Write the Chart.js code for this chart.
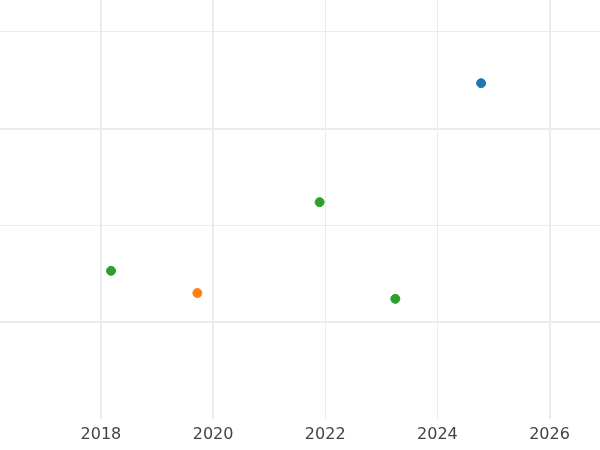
<!DOCTYPE html>
<html><head><script src="https://cdn.jsdelivr.net/npm/chart.js@4"></script>
<style>body{margin:0;background:#fff}#w{width:600px;height:450px}</style></head>
<body><div id="w"><canvas id="c"></canvas></div>
<script>
const xs=[2018.18,2019.72,2021.9,2023.25,2024.78];
const ys=[1.53,1.30,2.24,1.24,3.47];
const colors=['#2ca02c','#ff7f0e','#2ca02c','#2ca02c','#1f77b4'];
const xTicks=[2018,2020,2022,2024,2026];
const yTicks=[1,2,3,4];
new Chart(document.getElementById('c'),{type:'scatter',
data:{datasets:[{data:xs.map((x,i)=>({x,y:ys[i]})),pointBackgroundColor:colors,pointBorderColor:colors,pointRadius:4.5}]},
options:{responsive:true,maintainAspectRatio:false,animation:false,layout:{padding:0,autoPadding:false},
plugins:{legend:{display:false},tooltip:{enabled:false}},
scales:{
x:{min:2016.2,max:2026.9,afterBuildTicks:a=>{a.ticks=xTicks.map(v=>({value:v}))},
 border:{display:false},
 grid:{color:'#ebebeb',lineWidth:c=>(c.tick&&(c.tick.value===2022||c.tick.value===2024))?1:2,drawTicks:false},
 ticks:{color:'#444',font:{size:16,family:'DejaVu Sans'},padding:6,callback:v=>String(v)}},
y:{min:0,max:4.33,afterBuildTicks:a=>{a.ticks=yTicks.map(v=>({value:v}))},
 border:{display:false},
 grid:{color:'#ebebeb',lineWidth:c=>(c.tick&&(c.tick.value===1||c.tick.value===3))?2:1,drawTicks:false},
 ticks:{display:false}}}}});
</script></body></html>
